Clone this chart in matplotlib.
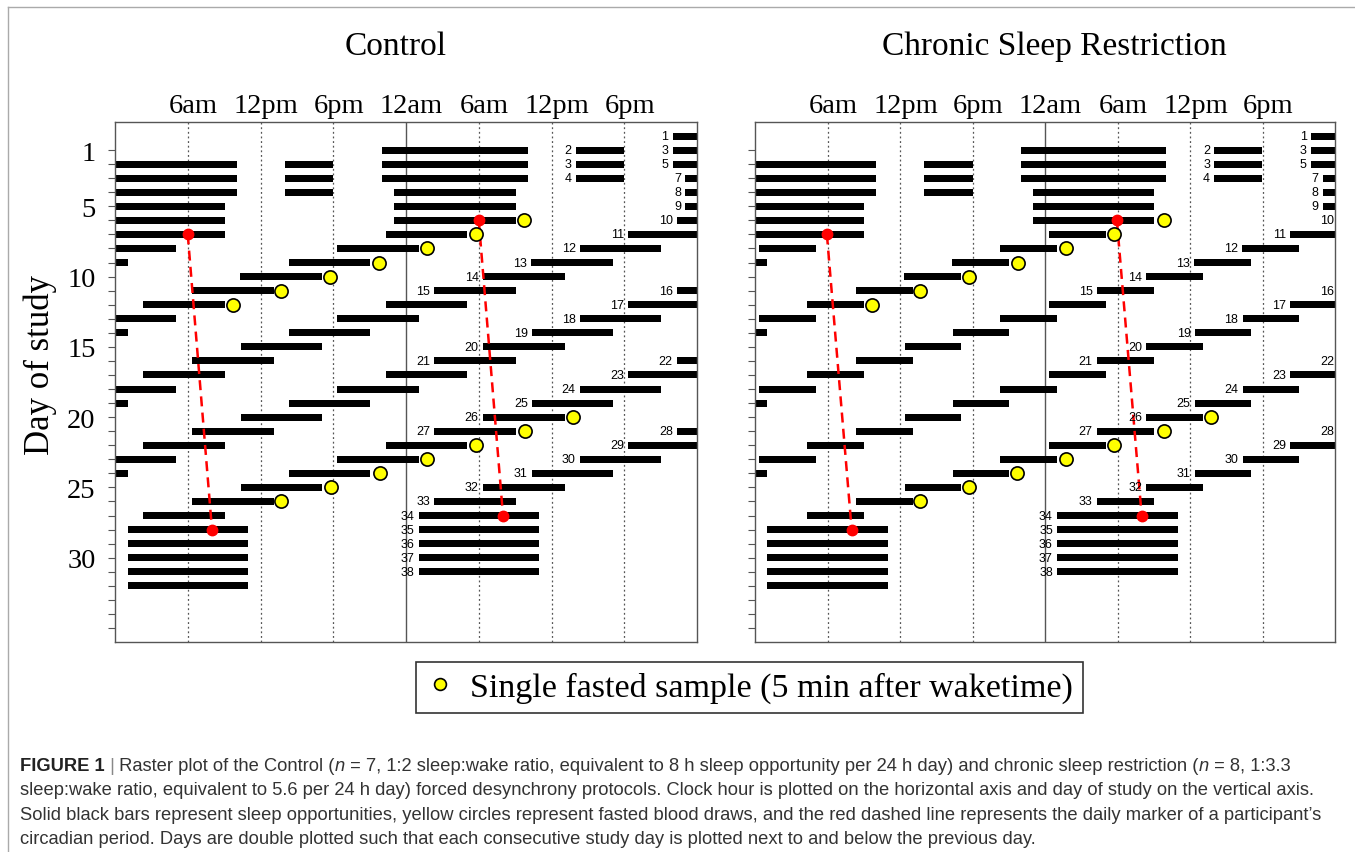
import numpy as np
import matplotlib.pyplot as plt
from matplotlib.lines import Line2D
from matplotlib.transforms import blended_transform_factory

# sleep episodes in hours from midnight before day 0, with their printed numbers
ctrl_start = [46.0, 62.0, 70.0, 86.0, 94.0, 110.0, 119.05, 143.05, 167.05,
              190.35, 210.35, 230.35, 250.35, 270.35, 290.35, 310.35, 330.35,
              350.35, 370.4, 390.35, 410.35, 430.35, 450.35, 470.35, 490.4,
              510.35, 530.35, 550.35, 570.35, 590.35, 610.4, 630.35, 650.35,
              673.05, 697.05, 721.05, 745.05, 769.05]
ctrl_end = [58.05, 66.0, 82.05, 90.0, 106.05, 114.0, 129.05, 153.05, 177.05,
            197.05, 217.05, 237.05, 257.05, 277.1, 297.1, 317.05, 337.05,
            357.05, 377.05, 397.1, 417.1, 437.05, 457.05, 477.05, 497.05,
            517.1, 537.1, 557.05, 577.05, 597.05, 617.05, 637.1, 657.1,
            683.0, 707.0, 731.0, 755.0, 779.0]
csr_start = [46.0, 62.0, 70.0, 86.0, 94.0, 110.0, 119.0, 143.0, 167.0,
             192.3, 212.3, 232.3, 252.35, 272.4, 292.3, 312.3, 332.3,
             352.35, 372.4, 392.4, 412.3, 432.3, 452.3, 472.35, 492.4,
             512.4, 532.3, 552.3, 572.3, 592.35, 612.4, 632.4, 652.3,
             673.0, 697.0, 721.0, 745.0, 769.0]
csr_end = [58.05, 66.0, 82.05, 90.0, 106.05, 114.0, 129.05, 153.05, 177.05,
           197.03, 217.03, 237.03, 257.02, 277.05, 297.03, 317.03, 337.0,
           357.04, 377.04, 397.05, 417.05, 437.03, 457.0, 477.04, 497.04,
           517.05, 537.05, 557.03, 577.0, 597.04, 617.04, 637.05, 657.05,
           683.02, 707.02, 731.02, 755.02, 779.02]
episode_labels = ['1', '2', '3', '3', '5', '4', '7', '8', '9'] + [str(n) for n in range(10, 39)]

# fasted samples (plot row, clock hour)
ctrl_samp_rows = [6, 7, 8, 9, 10, 11, 12, 20, 21, 22, 23, 24, 25, 26]
ctrl_samp_hours = [33.7, 29.8, 25.76, 21.74, 17.74, 13.72, 9.73,
                   37.77, 33.8, 29.8, 25.7, 21.83, 17.78, 13.72]
csr_samp_rows = [6, 7, 8, 9, 10, 11, 12, 20, 21, 22, 23, 24, 25, 26]
csr_samp_hours = [33.83, 29.74, 25.7, 21.78, 17.75, 13.69, 9.7,
                  37.76, 33.83, 29.74, 25.77, 21.71, 17.75, 13.69]

# circadian marker at start and end of the protocol (hours)
ctrl_marker = [174.0, 680.0]
csr_marker = [173.95, 680.0]

clock_hours = [6, 12, 18, 24, 30, 36, 42]
clock_labels = ['6am', '12pm', '6pm', '12am', '6am', '12pm', '6pm']
day_ticks = list(range(1, 36))
day_labels = [1, 5, 10, 15, 20, 25, 30]

SERIF = 'Liberation Serif'
SANS = 'Liberation Sans'
W, H = 1355, 853

fig = plt.figure(figsize=(W / 100, H / 100), dpi=100)


def px_axes(x0, y0, x1, y1):
    return fig.add_axes([x0 / W, 1 - y1 / H, (x1 - x0) / W, (y1 - y0) / H])


def draw_panel(ax, starts, ends, samp_rows, samp_hours, marker, ylabels):
    ax.set_xlim(0, 48)
    ax.set_ylim(36, -1)
    for g in clock_hours:
        if g == 24:
            ax.axvline(g, color='#555555', lw=1.0, zorder=1)
        else:
            ax.axvline(g, color='#555555', lw=0.9, ls=(0, (1.5, 2.2)), zorder=1)

    # double plot: row r shows hours 24r .. 24r+48
    rows, lefts, widths = [], [], []
    for s, e in zip(starts, ends):
        for r in range(int(s // 24) - 2, int(e // 24) + 2):
            lo, hi = max(s, 24 * r), min(e, 24 * r + 48)
            if hi > lo:
                rows.append(r)
                lefts.append(lo - 24 * r)
                widths.append(hi - lo)
    ax.barh(rows, widths, left=lefts, height=0.5, color='black', zorder=2)

    for s, lab in zip(starts, episode_labels):
        r = int(np.ceil((s - 48.5) / 24))
        ax.text(s - 24 * r - 0.35, r, lab, ha='right', va='center',
                fontsize=9, family=SANS, clip_on=False, zorder=6)

    a, b = marker
    for shift in (0, 1):
        ra, rb = int(a // 24) - shift, int(b // 24) - shift
        xa, xb = a - 24 * ra, b - 24 * rb
        ax.plot([xa, xb], [ra, rb], color='red', lw=1.8, dashes=(4, 2.5), zorder=3)
        ax.plot([xa, xb], [ra, rb], 'o', color='red', ms=7.5, ls='', zorder=4)

    ax.plot(samp_hours, samp_rows, 'o', ls='', ms=9.5, mfc='#ffff00',
            mec='black', mew=1.2, zorder=5)

    ax.set_xticks([])
    ax.set_yticks(day_ticks)
    if ylabels:
        ax.set_yticklabels([str(d) if d in day_labels else '' for d in day_ticks],
                           family=SERIF)
    else:
        ax.set_yticklabels([])
    ax.tick_params(axis='y', direction='out', length=5, color='#555555',
                   pad=9, labelsize=20.5)
    for sp in ax.spines.values():
        sp.set_color('#555555')
        sp.set_linewidth(1.0)

    trans = blended_transform_factory(ax.transData, ax.transAxes)
    for h, lab in zip(clock_hours, clock_labels):
        ax.annotate(lab, (h + 0.45, 1.0), xycoords=trans, xytext=(0, 3),
                    textcoords='offset points', ha='center', va='bottom',
                    fontsize=20.5, family=SERIF, annotation_clip=False)


ax1 = px_axes(115, 123, 697, 643)
ax2 = px_axes(755, 123, 1335, 643)
draw_panel(ax1, ctrl_start, ctrl_end, ctrl_samp_rows, ctrl_samp_hours, ctrl_marker, True)
draw_panel(ax2, csr_start, csr_end, csr_samp_rows, csr_samp_hours, csr_marker, False)

fig.text(396 / W, 1 - 47 / H, 'Control', ha='center', va='center',
         fontsize=24, family=SERIF)
fig.text(1054 / W, 1 - 47 / H, 'Chronic Sleep Restriction', ha='center',
         va='center', fontsize=24, family=SERIF)
fig.text(40 / W, 1 - 365 / H, 'Day of study', rotation=90, ha='center',
         va='center', fontsize=25, family=SERIF)

handle = Line2D([], [], ls='', marker='o', ms=8.5, mfc='#ffff00', mec='black', mew=1.2)
leg = fig.legend(handles=[handle], labels=['Single fasted sample (5 min after waketime)'],
                 loc='center', bbox_to_anchor=(749.5 / W, 1 - 688.5 / H),
                 prop={'family': SERIF, 'size': 24.5}, frameon=True, fancybox=False,
                 edgecolor='black', handlelength=0.8, handletextpad=0.5,
                 borderpad=0.3, borderaxespad=0)
leg.get_frame().set_linewidth(1.2)

# thin frame round the figure
fig.add_artist(Line2D([8 / W, 8 / W], [0, 1 - 8 / H], color='#aaaaaa', lw=1,
                      transform=fig.transFigure))
fig.add_artist(Line2D([8 / W, 1], [1 - 8 / H, 1 - 8 / H], color='#aaaaaa', lw=1,
                      transform=fig.transFigure))

# caption
renderer = fig.canvas.get_renderer()


def write_runs(x, y, runs):
    for txt, kw in runs:
        opts = dict(fontsize=13.2, family=SANS, color='#333333', va='baseline')
        opts.update(kw)
        t = fig.text(x / W, 1 - y / H, txt, **opts)
        x += t.get_window_extent(renderer).width


cap_lines = [
    [('FIGURE 1', {'weight': 'bold', 'color': '#222222'}),
     (' |', {'color': '#888888'}),
     (' Raster plot of the Control (', {}), ('n', {'style': 'italic'}),
     (' = 7, 1:2 sleep:wake ratio, equivalent to 8 h sleep opportunity per 24 h day) '
      'and chronic sleep restriction (', {}),
     ('n', {'style': 'italic'}), (' = 8, 1:3.3', {})],
    [('sleep:wake ratio, equivalent to 5.6 per 24 h day) forced desynchrony protocols. '
      'Clock hour is plotted on the horizontal axis and day of study on the vertical axis.', {})],
    [('Solid black bars represent sleep opportunities, yellow circles represent fasted blood '
      'draws, and the red dashed line represents the daily marker of a participant\u2019s', {})],
    [('circadian period. Days are double plotted such that each consecutive study day is '
      'plotted next to and below the previous day.', {})],
]
for i, runs in enumerate(cap_lines):
    write_runs(20, 771 + 24.5 * i, runs)

fig.savefig('out.png', dpi=100, facecolor='white')
